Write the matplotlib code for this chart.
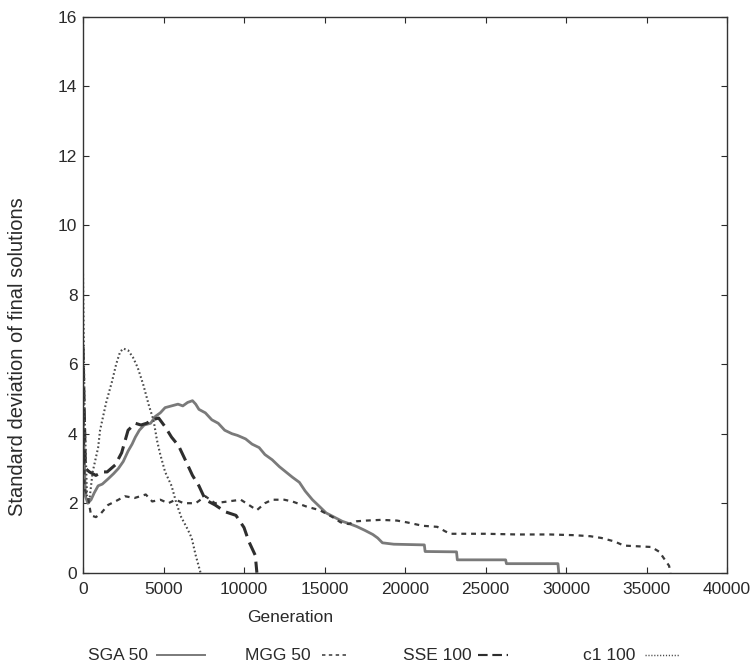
import matplotlib
matplotlib.use("Agg")
import matplotlib.pyplot as plt
from matplotlib.lines import Line2D

plt.rcParams['font.family'] = ['Liberation Sans', 'DejaVu Sans']

# Standard deviation of final solutions vs. generation
sga50_gen = [0, 150, 300, 500, 700, 940, 1200, 1560, 1900, 2200, 2500, 2800, 3050, 3250,
             3500, 3800, 4200, 4500, 4800, 5100, 5500, 5900, 6200, 6500, 6800, 7000, 7200,
             7600, 8000, 8400, 8800, 9250, 9600, 10100, 10500, 10940, 11300, 11750, 12200,
             12600, 13000, 13440, 13800, 14250, 14700, 15100, 15600, 16100, 16600, 17000,
             17500, 18000, 18300, 18600, 19300, 21200, 21250, 23200, 23250, 26250, 26300,
             29500, 29550]
sga50_std = [4.5, 2.2, 2.0, 2.1, 2.3, 2.5, 2.55, 2.7, 2.85, 3.0, 3.2, 3.5, 3.7, 3.9,
             4.1, 4.25, 4.3, 4.5, 4.6, 4.75, 4.8, 4.85, 4.8, 4.9, 4.95, 4.85, 4.7,
             4.6, 4.4, 4.3, 4.1, 4.0, 3.95, 3.85, 3.7, 3.6, 3.4, 3.25, 3.05,
             2.9, 2.75, 2.6, 2.35, 2.1, 1.9, 1.72, 1.6, 1.48, 1.4, 1.33,
             1.22, 1.1, 1.0, 0.86, 0.82, 0.8, 0.61, 0.6, 0.37, 0.37, 0.26,
             0.26, 0.0]

mgg50_gen = [0, 100, 300, 500, 800, 1100, 1560, 2000, 2600, 3200, 3900, 4300, 4800, 5300,
             5750, 6250, 7000, 7600, 8200, 9000, 9800, 10300, 10800, 11300, 11750, 12500,
             13000, 13900, 14700, 15500, 16000, 16500, 17000, 17600, 18500, 19500, 20100,
             21100, 22000, 22500, 22800, 25000, 27000, 29000, 30500, 31500, 32200, 33000,
             33600, 35300, 35800, 36400, 36500]
mgg50_std = [5.5, 2.4, 2.2, 1.65, 1.6, 1.7, 1.95, 2.05, 2.2, 2.15, 2.25, 2.05, 2.1, 2.0,
             2.1, 2.0, 2.0, 2.2, 2.0, 2.05, 2.1, 1.95, 1.8, 2.0, 2.1, 2.1,
             2.05, 1.9, 1.8, 1.6, 1.45, 1.4, 1.48, 1.5, 1.52, 1.5, 1.45,
             1.35, 1.32, 1.19, 1.12, 1.12, 1.1, 1.1, 1.08, 1.05, 1.0, 0.9,
             0.78, 0.74, 0.6, 0.2, 0.0]

sse100_gen = [0, 150, 400, 800, 1200, 1500, 2000, 2400, 2800, 3250, 3600, 3950, 4300, 4700,
              5100, 5500, 5940, 6400, 6800, 7200, 7600, 8200, 8850, 9500, 10000, 10300,
              10700, 10800]
sse100_std = [6.5, 3.0, 2.9, 2.8, 2.9, 2.9, 3.1, 3.45, 4.1, 4.3, 4.25, 4.3, 4.4, 4.45,
              4.2, 3.9, 3.65, 3.2, 2.8, 2.5, 2.1, 1.95, 1.75, 1.65, 1.3, 0.9,
              0.5, 0.0]

c1100_gen = [0, 100, 250, 400, 600, 940, 1060, 1440, 1800, 2060, 2300, 2500, 2800, 3100,
             3400, 3750, 4100, 4375, 4600, 4800, 5100, 5500, 5800, 6100, 6500, 6750, 7000,
             7300]
c1100_std = [8.6, 4.5, 2.2, 2.1, 2.9, 3.6, 4.1, 4.9, 5.5, 6.0, 6.35, 6.45, 6.4, 6.2,
             5.9, 5.4, 4.8, 4.4, 3.8, 3.4, 2.9, 2.5, 2.0, 1.6, 1.25, 1.0, 0.5,
             0.0]

series = [
    ("SGA 50", sga50_gen, sga50_std, dict(color="#7a7a7a", lw=2.0, ls="-")),
    ("MGG 50", mgg50_gen, mgg50_std, dict(color="#3a3a3a", lw=1.6, ls=(0, (2.2, 2.2)))),
    ("SSE 100", sse100_gen, sse100_std, dict(color="#2e2e2e", lw=2.2, ls=(0, (4.5, 2.2)))),
    ("c1 100", c1100_gen, c1100_std, dict(color="#4a4a4a", lw=1.5, ls=(0, (0.8, 1.2)))),
]

xticks = [0, 5000, 10000, 15000, 20000, 25000, 30000, 35000, 40000]
yticks = [0, 2, 4, 6, 8, 10, 12, 14, 16]

W, H = 754, 668
fig = plt.figure(figsize=(W / 100, H / 100), dpi=100)
ax = fig.add_axes([83 / W, 1 - 572.7 / H, (727 - 83) / W, (572.7 - 16.7) / H])

for name, g, s, st in series:
    ax.plot(g, s, **st)

ax.set_xlim(0, 40000)
ax.set_ylim(0, 16)
ax.set_xticks(xticks)
ax.set_yticks(yticks)
ax.tick_params(direction="in", length=4, width=0.8, top=True, right=True,
               labelsize=12.5, colors="#2a2a2a")
ax.tick_params(axis="y", pad=4)
ax.tick_params(axis="x", pad=7)
for sp in ax.spines.values():
    sp.set_linewidth(1.0)
    sp.set_color("#333333")

fig.text(290 / W, 1 - 618 / H, "Generation", ha="center", va="center",
         fontsize=12.5, color="#2a2a2a")
fig.text(18 / W, 1 - 357 / H, "Standard deviation of final solutions", ha="center",
         va="center", rotation=90, fontsize=14.5, color="#2a2a2a")

# legend row beneath the axis label: text followed by a line sample
legend_pos = [(88, 157, 205), (245, 322, 347), (403, 478, 508), (583, 645, 680)]
ly = 1 - 655 / H
for (name, g, s, st), (tx, x0, x1) in zip(series, legend_pos):
    fig.text(tx / W, ly, name, ha="left", va="center", fontsize=12.5, color="#2a2a2a")
    st2 = dict(st)
    st2["lw"] = st["lw"] * 0.7
    fig.add_artist(Line2D([x0 / W, x1 / W], [ly, ly], transform=fig.transFigure, **st2))

fig.savefig("out.png", dpi=100, facecolor="white")
